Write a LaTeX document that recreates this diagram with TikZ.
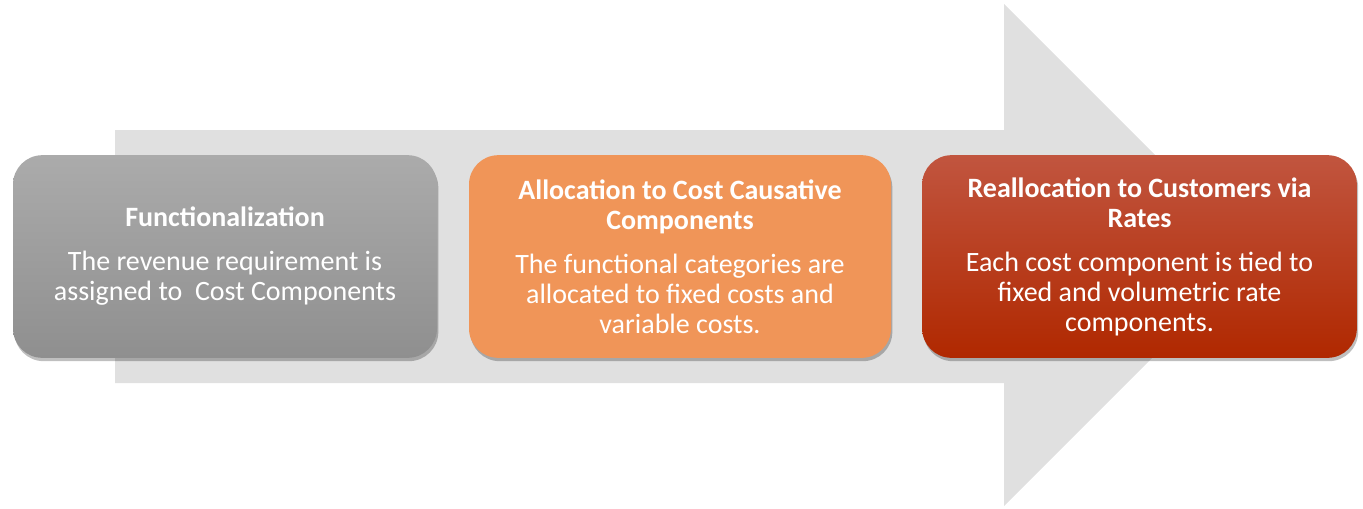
\documentclass[tikz,border=0pt]{standalone}
\usepackage{fontspec}
\setmainfont{Carlito}
\usetikzlibrary{shadows}
\definecolor{arrowgray}{HTML}{E0E0E0}
\definecolor{grayTop}{HTML}{ABABAB}
\definecolor{grayBot}{HTML}{8F8F8F}
\definecolor{orangeFill}{HTML}{F09558}
\definecolor{redTop}{HTML}{C1553F}
\definecolor{redBot}{HTML}{B02800}
\tikzset{
  stepbox/.style={rounded corners=22pt, minimum height=152pt, align=center,
    text=white, inner sep=4pt,
    font=\fontsize{21}{22.5}\selectfont,
    drop shadow={shadow xshift=1pt, shadow yshift=-2.5pt, opacity=0.25, fill=black}}
}
\begin{document}
\begin{tikzpicture}[x=0.75pt,y=-0.75pt]
  \useasboundingbox (0,0) rectangle (1363,508);
  % background arrow
  \fill[arrowgray] (115,130) -- (1004,130) -- (1004,4) -- (1255,255)
    -- (1004,506) -- (1004,383) -- (115,383) -- cycle;
  % steps
  \node[stepbox, minimum width=318pt, top color=grayTop, bottom color=grayBot] (func) at (225,256.5)
    {\textbf{Functionalization}\\[10.5pt]The revenue requirement is\\assigned to\ \ Cost Components};
  \node[stepbox, minimum width=316.5pt, fill=orangeFill] (alloc) at (680,256.5)
    {\textbf{Allocation to Cost Causative}\\\textbf{Components}\\[10.5pt]The functional categories are\\allocated to fixed costs and\\variable costs.};
  \node[stepbox, minimum width=326pt, top color=redTop, bottom color=redBot] (realloc) at (1139.5,256.5)
    {\textbf{Reallocation to Customers via}\\\textbf{Rates}\\[10.5pt]Each cost component is tied to\\fixed and volumetric rate\\components.};
\end{tikzpicture}
\end{document}
